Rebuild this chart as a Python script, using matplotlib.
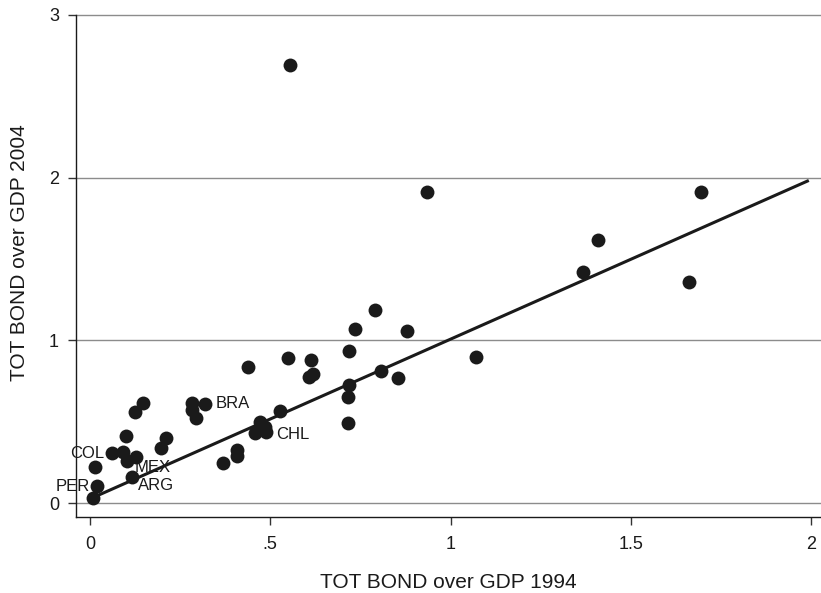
import numpy as np
import matplotlib
matplotlib.use('Agg')
from matplotlib import pyplot as plt

plt.rcParams['font.family'] = ['Liberation Sans', 'DejaVu Sans']

# bond market size over GDP, 1994 vs 2004
bond_1994 = [0.555, 0.935, 1.695, 1.409, 1.368, 1.662, 0.791, 0.735, 0.880,
             0.719, 1.071, 0.439, 0.550, 0.612, 0.619, 0.608, 0.806, 0.853,
             0.719, 0.716, 0.715, 0.527, 0.472, 0.485, 0.458, 0.488, 0.319,
             0.282, 0.282, 0.293, 0.211, 0.196, 0.409, 0.407, 0.370, 0.148,
             0.125, 0.100, 0.060, 0.091, 0.102, 0.127, 0.117, 0.014, 0.019,
             0.007]
bond_2004 = [2.69, 1.91, 1.91, 1.62, 1.42, 1.36, 1.19, 1.07, 1.06,
             0.935, 0.90, 0.84, 0.894, 0.88, 0.794, 0.774, 0.815, 0.772,
             0.727, 0.655, 0.491, 0.567, 0.501, 0.47, 0.43, 0.44, 0.61,
             0.618, 0.573, 0.526, 0.40, 0.338, 0.327, 0.292, 0.249, 0.614,
             0.563, 0.413, 0.307, 0.317, 0.262, 0.283, 0.160, 0.225, 0.106,
             0.034]

# labelled countries
lab_names = ['BRA', 'CHL', 'MEX', 'ARG', 'COL', 'PER']
lab_x = [0.319, 0.488, 0.102, 0.117, 0.060, 0.019]
lab_y = [0.61, 0.44, 0.262, 0.160, 0.307, 0.106]

# fitted line
fit_intercept = 0.027
fit_slope = 0.981
fit_range = [0.007, 1.99]

fig = plt.figure(figsize=(8.21, 5.93), dpi=100)
ax = fig.add_axes([0.0922, 0.1287, 0.9078, 0.8462])

for yv in [0, 1, 2, 3]:
    ax.axhline(yv, color='#8c8c8c', lw=1.0, zorder=0, clip_on=False)

ax.scatter(bond_1994, bond_2004, s=100, color='#1a1a1a', zorder=3, linewidths=0)

fx = np.array(fit_range)
ax.plot(fx, fit_intercept + fit_slope * fx, color='#1a1a1a', lw=2.2, zorder=4)

offsets = {'BRA': (8, 0, 'left'), 'CHL': (7, -2, 'left'), 'MEX': (6, -5, 'left'),
           'ARG': (4, -6, 'left'), 'COL': (-5, 0, 'right'), 'PER': (-5, 0, 'right')}
for name, x, y in zip(lab_names, lab_x, lab_y):
    dx, dy, ha = offsets[name]
    ax.annotate(name, (x, y), xytext=(dx, dy), textcoords='offset points',
                ha=ha, va='center', fontsize=12, color='#1a1a1a', zorder=5)

ax.set_xlim(-0.0397, 2.0277)
ax.set_ylim(-0.0823, 3.0)
ax.set_xticks([0, 0.5, 1, 1.5, 2])
ax.set_xticklabels(['0', '.5', '1', '1.5', '2'])
ax.set_yticks([0, 1, 2, 3])
ax.set_yticklabels(['0', '1', '2', '3'])
ax.tick_params(axis='both', length=6, width=1, color='#333333', labelsize=13,
               labelcolor='#1a1a1a', pad=6)
ax.tick_params(axis='x', pad=8)

for s in ['top', 'right']:
    ax.spines[s].set_visible(False)
for s in ['left', 'bottom']:
    ax.spines[s].set_color('#1a1a1a')
    ax.spines[s].set_linewidth(1.0)

ax.set_xlabel('TOT BOND over GDP 1994', fontsize=15, color='#1a1a1a', labelpad=14)
ax.set_ylabel('TOT BOND over GDP 2004', fontsize=15, color='#1a1a1a')
ax.yaxis.set_label_coords(-0.063, 0.5255)

fig.savefig('out.png', dpi=100)
